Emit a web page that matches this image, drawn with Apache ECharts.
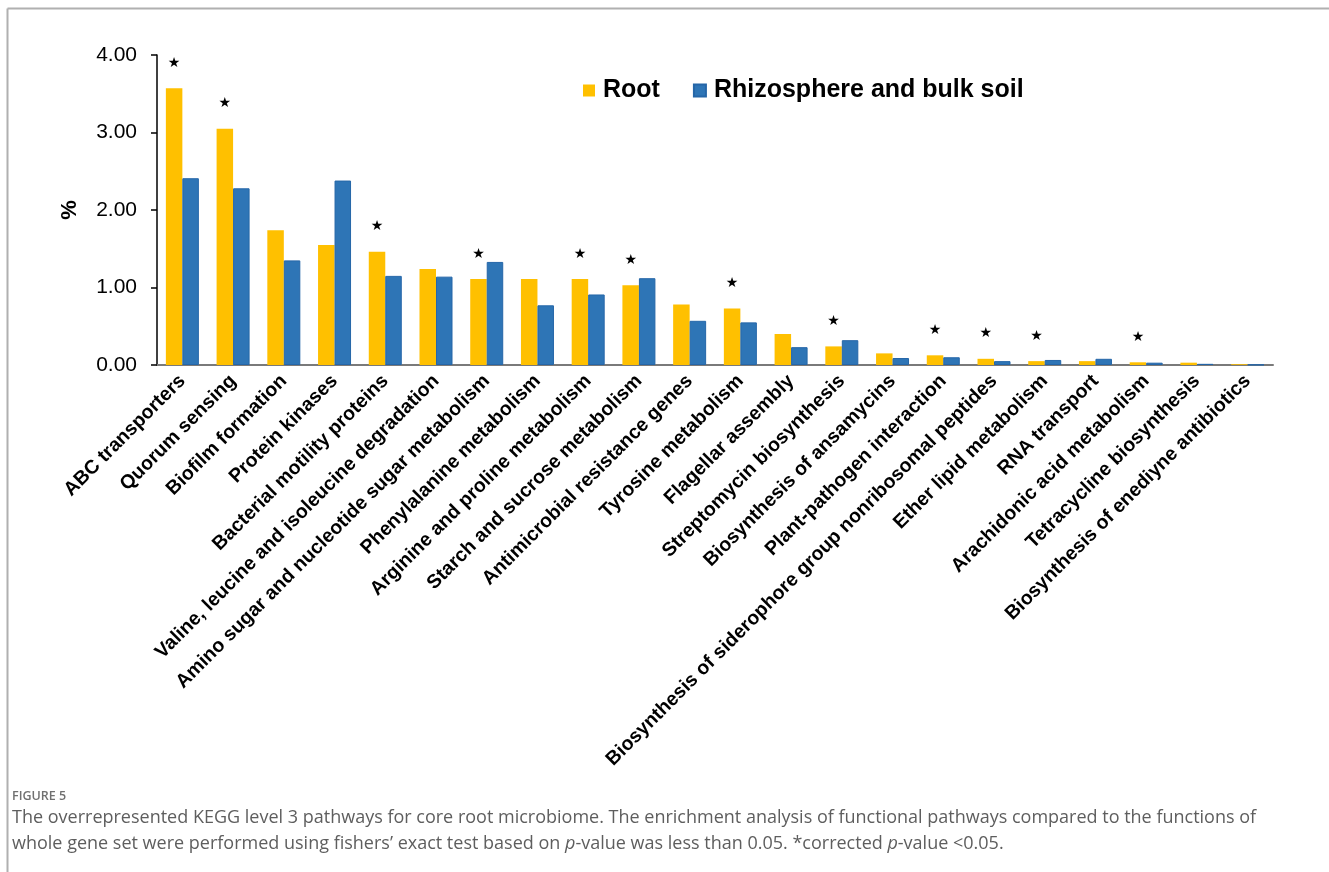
<!DOCTYPE html>
<html>
<head>
<meta charset="utf-8">
<script src="https://cdn.jsdelivr.net/npm/echarts@6/dist/echarts.min.js"></script>
<style>
  html, body { margin: 0; padding: 0; background: #ffffff; }
  #chart { width: 1329px; height: 872px; }
</style>
</head>
<body>
<div id="chart"></div>
<script>
// KEGG level 3 pathways (x-axis categories)
const categories = [
  'ABC transporters',
  'Quorum sensing',
  'Biofilm formation',
  'Protein kinases',
  'Bacterial motility proteins',
  'Valine, leucine and isoleucine degradation',
  'Amino sugar and nucleotide sugar metabolism',
  'Phenylalanine metabolism',
  'Arginine and proline metabolism',
  'Starch and sucrose metabolism',
  'Antimicrobial resistance genes',
  'Tyrosine metabolism',
  'Flagellar assembly',
  'Streptomycin biosynthesis',
  'Biosynthesis of ansamycins',
  'Plant-pathogen interaction',
  'Biosynthesis of siderophore group nonribosomal peptides',
  'Ether lipid metabolism',
  'RNA transport',
  'Arachidonic acid metabolism',
  'Tetracycline biosynthesis',
  'Biosynthesis of enediyne antibiotics'
];

// Relative abundance (%) in root samples
const rootValues = [3.57, 3.05, 1.74, 1.55, 1.46, 1.24, 1.11, 1.11, 1.11, 1.03, 0.78,
                    0.73, 0.40, 0.24, 0.15, 0.125, 0.08, 0.05, 0.05, 0.035, 0.03, 0.01];

// Relative abundance (%) in rhizosphere and bulk soil samples
const soilValues = [2.41, 2.28, 1.35, 2.38, 1.15, 1.14, 1.33, 0.77, 0.91, 1.12, 0.57,
                    0.55, 0.23, 0.32, 0.09, 0.10, 0.05, 0.065, 0.08, 0.03, 0.015, 0.004];

// Pathways with corrected p-value < 0.05 (marked with a star)
const significant = [true, true, false, false, true, false, true, false, true, true, false,
                     true, false, true, false, true, true, true, false, true, false, false];

// Y-axis ticks
const yTicks = { min: 0, max: 4, interval: 1 };

const seriesNames = ['Root', 'Rhizosphere and bulk soil'];

const captionTitle = 'FIGURE 5';
const captionLines = [
  'The overrepresented KEGG level 3 pathways for core root microbiome. The enrichment analysis of functional pathways compared to the functions of',
  'whole gene set were performed using fishers\u2019 exact test based on {i|p}-value was less than 0.05. *corrected {i|p}-value <0.05.'
];

const chart = echarts.init(document.getElementById('chart'), null, { renderer: 'canvas' });

const rootData = rootValues.map((v, i) => ({
  value: v,
  label: { show: significant[i] }
}));

const arial = '"Liberation Sans", Arial, sans-serif';
const captionFont = '"Open Sans", "Noto Sans", sans-serif';

const option = {
  backgroundColor: '#ffffff',
  animation: false,
  grid: { left: 157, right: 56, top: 55, bottom: 507, containLabel: false },
  legend: {
    data: seriesNames,
    left: 583,
    top: 78,
    padding: 0,
    itemWidth: 12,
    itemHeight: 12,
    itemGap: 33,
    icon: 'rect',
    textStyle: {
      fontFamily: arial,
      fontWeight: 'bold',
      fontSize: 25,
      color: '#000',
      padding: [0, 0, 0, 3]
    }
  },
  xAxis: {
    type: 'category',
    data: categories,
    axisLine: { show: true, lineStyle: { color: '#7a7a7a', width: 2 } },
    axisTick: { show: false },
    axisLabel: {
      interval: 0,
      rotate: 45,
      margin: 13,
      fontFamily: arial,
      fontWeight: 'bold',
      fontSize: 19.5,
      color: '#000'
    },
    splitLine: { show: false }
  },
  yAxis: {
    type: 'value',
    min: yTicks.min,
    max: yTicks.max,
    interval: yTicks.interval,
    name: '%',
    nameLocation: 'middle',
    nameRotate: 90,
    nameGap: 76,
    nameTextStyle: {
      fontFamily: arial,
      fontWeight: 'bold',
      fontSize: 22,
      color: '#000'
    },
    axisLine: { show: true, lineStyle: { color: '#000', width: 1.5 } },
    axisTick: { show: true, inside: false, length: 6, lineStyle: { color: '#000', width: 1.5 } },
    axisLabel: {
      margin: 20,
      fontFamily: arial,
      fontSize: 21,
      color: '#000',
      formatter: v => v.toFixed(2)
    },
    splitLine: { show: false }
  },
  series: [
    {
      name: seriesNames[0],
      type: 'bar',
      data: rootData,
      barWidth: 16.5,
      barGap: '0%',
      itemStyle: { color: '#FFC000' },
      label: {
        show: false,
        position: 'top',
        distance: 18,
        formatter: '\u2605',
        fontFamily: '"DejaVu Sans", sans-serif',
        fontSize: 14,
        color: '#000'
      }
    },
    {
      name: seriesNames[1],
      type: 'bar',
      data: soilValues,
      barWidth: 16.5,
      barGap: '0%',
      itemStyle: { color: '#2E75B6', borderColor: '#2566A8', borderWidth: 1 }
    }
  ],
  graphic: [
    // page frame
    { type: 'line', silent: true, shape: { x1: 7.5, y1: 8.5, x2: 1329, y2: 8.5 },
      style: { stroke: '#b0b0b0', lineWidth: 2 } },
    { type: 'line', silent: true, shape: { x1: 7.5, y1: 8.5, x2: 7.5, y2: 872 },
      style: { stroke: '#b0b0b0', lineWidth: 2 } },
    // caption
    { type: 'text', left: 12, top: 790, silent: true,
      style: { text: captionTitle, fill: '#707070', font: '600 12.5px ' + captionFont } },
    { type: 'text', left: 12, top: 809, silent: true,
      style: { text: captionLines[0], fill: '#5e5e5e', font: '18px ' + captionFont } },
    { type: 'text', left: 12, top: 835, silent: true,
      style: {
        text: captionLines[1], fill: '#5e5e5e', font: '18px ' + captionFont,
        rich: { i: { fontStyle: 'italic', fill: '#5e5e5e', font: 'italic 18px ' + captionFont } }
      } }
  ]
};

chart.setOption(option);
</script>
</body>
</html>
